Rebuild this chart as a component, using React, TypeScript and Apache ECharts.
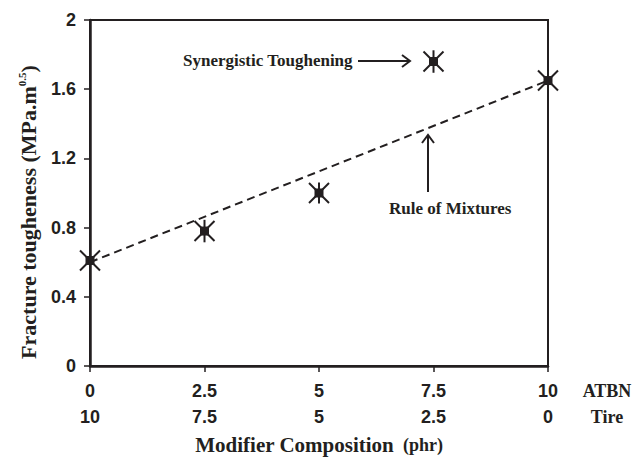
import React, { useEffect, useRef } from "react";
import * as echarts from "echarts";

const atbn = [0, 2.5, 5, 7.5, 10];
const tire = [10, 7.5, 5, 2.5, 0];
const toughness = [0.61, 0.78, 1.0, 1.76, 1.65];
const errorBar = [0.06, 0.065, 0.06, 0.065, 0.06];
const ruleOfMixtures = [
  [0, 0.6],
  [10, 1.65],
];

const INK = "#231f20";
const SERIF = "Liberation Serif, Times New Roman, serif";
const NARROW = "Liberation Sans Narrow, Arial Narrow, Liberation Sans, sans-serif";

export default function App() {
  const ref = useRef<HTMLDivElement>(null);
  useEffect(() => {
    document.body.style.margin = "0";
    const chart = echarts.init(ref.current!, null, { renderer: "svg" });
    const pts = atbn.map((x, i) => [x, toughness[i], errorBar[i]]);
    chart.setOption({
      animation: false,
      backgroundColor: "#fff",
      grid: {
        left: 90,
        right: 91,
        top: 20,
        bottom: 93,
        show: true,
        borderColor: INK,
        borderWidth: 2,
        containLabel: false,
        outerBoundsMode: "none",
      },
      xAxis: {
        type: "value",
        min: 0,
        max: 10,
        interval: 2.5,
        splitLine: { show: false },
        axisLine: { lineStyle: { color: INK, width: 2.5 } },
        axisTick: { length: 6, lineStyle: { color: INK, width: 1.5 } },
        axisLabel: {
          margin: 12,
          color: INK,
          fontFamily: NARROW,
          fontWeight: "bold",
          fontSize: 18,
          lineHeight: 26,
          formatter: (v: number) => {
            const i = Math.round(v / 2.5);
            return `${atbn[i]}\n${tire[i]}`;
          },
        },
        name: "{b|Modifier Composition}{c|  (phr)}",
        nameLocation: "middle",
        nameGap: 66,
        nameTextStyle: {
          rich: {
            b: { fontFamily: SERIF, fontWeight: "bold", fontSize: 21, color: INK },
            c: { fontFamily: SERIF, fontWeight: "bold", fontSize: 18, color: INK },
          },
        },
      },
      yAxis: {
        type: "value",
        min: 0,
        max: 2,
        interval: 0.4,
        splitLine: { show: false },
        axisLine: { show: true, lineStyle: { color: INK, width: 2.5 } },
        axisTick: { show: true, length: 6, lineStyle: { color: INK, width: 1.5 } },
        axisLabel: {
          margin: 14,
          color: INK,
          fontFamily: NARROW,
          fontWeight: "bold",
          fontSize: 18,
        },
      },
      series: [
        {
          type: "line",
          data: ruleOfMixtures,
          symbol: "none",
          lineStyle: { color: INK, width: 2, type: [8, 5] },
          z: 1,
        },
        {
          type: "custom",
          data: pts,
          z: 3,
          renderItem: (params: any, api: any) => {
            const x = api.value(0);
            const y = api.value(1);
            const e = api.value(2);
            const c = api.coord([x, y]);
            const top = api.coord([x, y + e]);
            const bot = api.coord([x, y - e]);
            const s = 4.5;
            const d = 10;
            const ls = { stroke: INK, lineWidth: 2 };
            return {
              type: "group",
              children: [
                {
                  type: "line",
                  shape: { x1: c[0], y1: top[1], x2: c[0], y2: bot[1] },
                  style: ls,
                },
                {
                  type: "line",
                  shape: { x1: c[0] - d, y1: c[1] - d, x2: c[0] + d, y2: c[1] + d },
                  style: ls,
                },
                {
                  type: "line",
                  shape: { x1: c[0] - d, y1: c[1] + d, x2: c[0] + d, y2: c[1] - d },
                  style: ls,
                },
                {
                  type: "rect",
                  shape: { x: c[0] - s, y: c[1] - s, width: 2 * s, height: 2 * s },
                  style: { fill: INK },
                },
              ],
            };
          },
        },
      ],
      graphic: [
        {
          type: "text",
          x: 28,
          y: 212,
          rotation: Math.PI / 2,
          style: {
            text: "{a|Fracture tougheness (MPa.m}{s|0.5}{a|)}",
            align: "center",
            verticalAlign: "middle",
            rich: {
              a: { fontFamily: SERIF, fontWeight: "bold", fontSize: 22, fill: INK },
              s: {
                fontFamily: SERIF,
                fontWeight: "bold",
                fontSize: 11,
                fill: INK,
                padding: [0, 0, 13, 0],
              },
            },
          },
        },
        {
          type: "text",
          left: 183,
          top: 52,
          style: {
            text: "Synergistic Toughening",
            fontFamily: SERIF,
            fontWeight: "bold",
            fontSize: 17,
            fill: INK,
          },
        },
        {
          type: "line",
          shape: { x1: 358, y1: 61, x2: 410, y2: 61 },
          style: { stroke: INK, lineWidth: 2 },
        },
        {
          type: "polyline",
          shape: { points: [[402, 55], [410, 61], [402, 67]] },
          style: { stroke: INK, lineWidth: 2, fill: null },
        },
        {
          type: "line",
          shape: { x1: 428, y1: 192, x2: 428, y2: 135 },
          style: { stroke: INK, lineWidth: 2 },
        },
        {
          type: "polyline",
          shape: { points: [[422, 143], [428, 135], [434, 143]] },
          style: { stroke: INK, lineWidth: 2, fill: null },
        },
        {
          type: "text",
          left: 389,
          top: 200,
          style: {
            text: "Rule of Mixtures",
            fontFamily: SERIF,
            fontWeight: "bold",
            fontSize: 17,
            fill: INK,
          },
        },
        {
          type: "text",
          x: 607,
          y: 391,
          style: {
            text: "ATBN",
            fontFamily: SERIF,
            fontWeight: "bold",
            fontSize: 18,
            fill: INK,
            align: "center",
            verticalAlign: "middle",
          },
        },
        {
          type: "text",
          x: 607,
          y: 417,
          style: {
            text: "Tire",
            fontFamily: SERIF,
            fontWeight: "bold",
            fontSize: 18,
            fill: INK,
            align: "center",
            verticalAlign: "middle",
          },
        },
      ],
    });
    return () => chart.dispose();
  }, []);
  return <div ref={ref} style={{ width: 639, height: 459 }} />;
}
